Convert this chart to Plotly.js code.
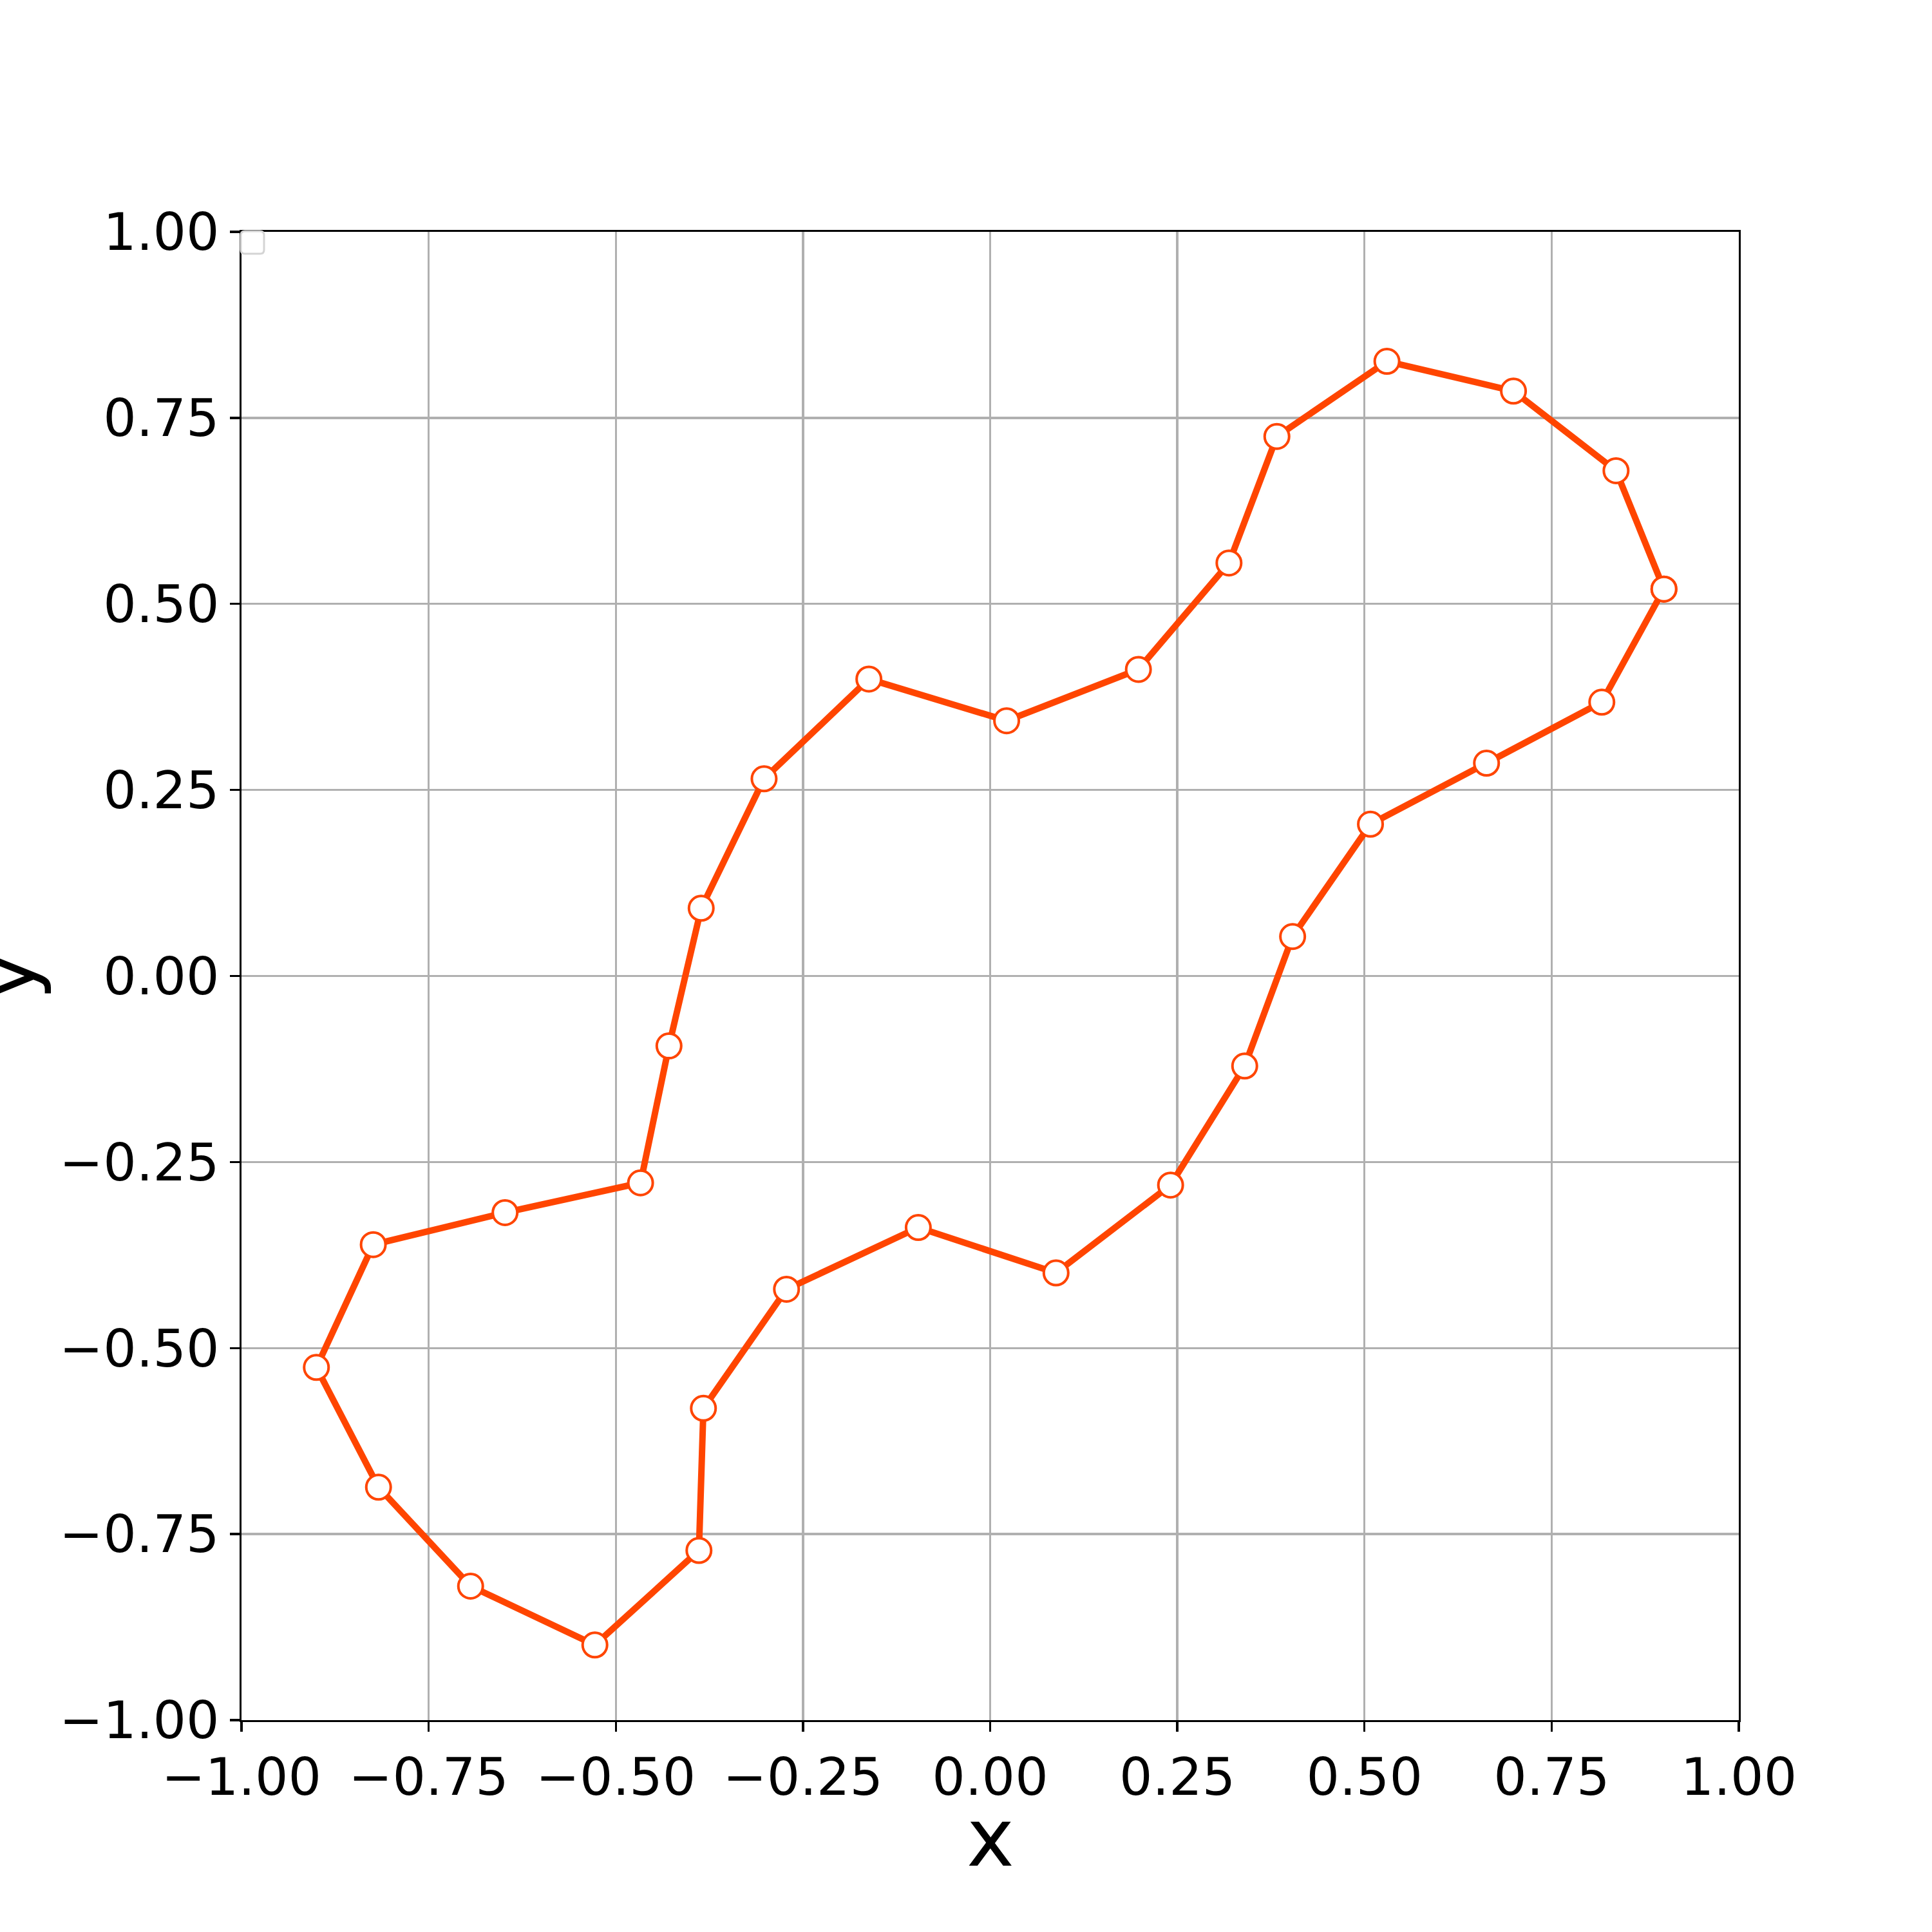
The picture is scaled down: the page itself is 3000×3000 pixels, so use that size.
<!DOCTYPE html>
<html>
<head>
<meta charset="utf-8">
<script src="https://cdn.plot.ly/plotly-3.0.1.min.js"></script>
<style>html,body{margin:0;padding:0;background:#fff;}</style>
</head>
<body>
<div id="chart" style="width:3000px;height:3000px;"></div>
<script>
// Closed curve points (last point repeats first)
const xValues = [0.900, 0.817, 0.663, 0.508, 0.404, 0.340, 0.241, 0.088, -0.096, -0.272,
  -0.383, -0.389, -0.528, -0.694, -0.817, -0.900, -0.824, -0.648, -0.467, -0.429,
  -0.386, -0.302, -0.162, 0.022, 0.198, 0.319, 0.383, 0.530, 0.699, 0.836, 0.900];
const yValues = [0.520, 0.368, 0.286, 0.204, 0.053, -0.121, -0.281, -0.399, -0.338, -0.421,
  -0.581, -0.772, -0.899, -0.820, -0.687, -0.526, -0.361, -0.318, -0.278, -0.094,
  0.091, 0.265, 0.399, 0.343, 0.412, 0.555, 0.725, 0.826, 0.786, 0.679, 0.520];
const tickValues = [-1, -0.75, -0.5, -0.25, 0, 0.25, 0.5, 0.75, 1];
const xLabel = 'x';
const yLabel = 'y';

const FONT = 'DejaVu Sans, sans-serif';
const trace = {
  x: xValues, y: yValues, type: 'scatter', mode: 'lines+markers',
  line: {color: '#ff4500', width: 10},
  marker: {size: 38, color: '#ffffff', line: {color: '#ff4500', width: 4}},
  showlegend: false, cliponaxis: false
};
const axisCommon = {
  range: [-1, 1], tickvals: tickValues, tickformat: '.2f',
  showgrid: true, gridcolor: '#b0b0b0', gridwidth: 3.3,
  zeroline: false, showline: true, linecolor: '#000', linewidth: 3.3, mirror: true,
  ticks: 'outside', ticklen: 15, tickwidth: 3.3, tickcolor: '#000',
  tickfont: {family: FONT, size: 81, color: '#000'}
};
const layout = {
  width: 3000, height: 3000,
  margin: {l: 375, r: 300, t: 360, b: 329, pad: 0},
  paper_bgcolor: '#fff', plot_bgcolor: '#fff',
  font: {family: FONT, color: '#000'},
  xaxis: Object.assign({}, axisCommon, {automargin: false}),
  yaxis: Object.assign({}, axisCommon, {automargin: false}),
  annotations: [
    {text: xLabel, xref: 'paper', yref: 'paper', x: 0.5, y: -0.111, xanchor: 'center', yanchor: 'bottom',
     showarrow: false, font: {family: FONT, size: 125, color: '#000'}},
    {text: yLabel, xref: 'paper', yref: 'paper', x: -0.125, y: 0.5, xanchor: 'right', yanchor: 'middle',
     textangle: -90, showarrow: false, font: {family: FONT, size: 125, color: '#000'}}
  ],
  shapes: [
    {type: 'path', xref: 'paper', yref: 'paper', xsizemode: 'pixel', ysizemode: 'pixel',
     xanchor: 0, yanchor: 1,
     path: 'M 5,1 L 29,1 Q 35,1 35,-5 L 35,-28 Q 35,-34 29,-34 L 5,-34 Q -1,-34 -1,-28 L -1,-5 Q -1,1 5,1 Z',
     fillcolor: 'rgba(255,255,255,0.8)', line: {color: '#d4d4d4', width: 3}, layer: 'above'}
  ]
};
Plotly.newPlot('chart', [trace], layout, {staticPlot: true});
</script>
</body>
</html>
